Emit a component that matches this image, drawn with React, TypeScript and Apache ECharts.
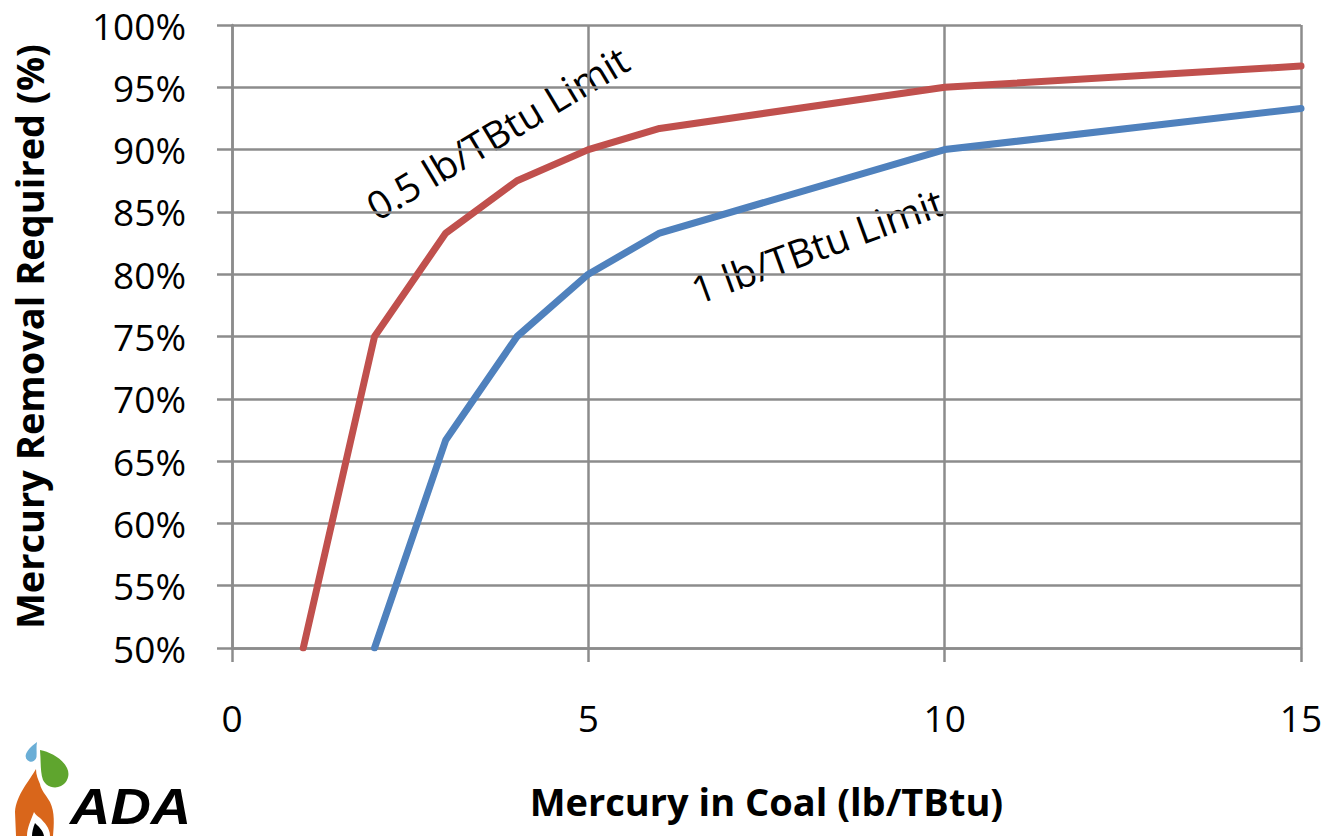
import React, { useEffect, useRef } from "react";
import * as echarts from "echarts";

const coalMercury = [1, 2, 3, 4, 5, 6, 10, 15];
const removalHalfLimit = [50, 75, 83.3, 87.5, 90, 91.7, 95, 96.7];
const coalMercuryOne = [2, 3, 4, 5, 6, 10, 15];
const removalOneLimit = [50, 66.7, 75, 80, 83.3, 90, 93.3];
const seriesNames = ["0.5 lb/TBtu Limit", "1 lb/TBtu Limit"];
const xAxisTitle = "Mercury in Coal (lb/TBtu)";
const yAxisTitle = "Mercury Removal Required (%)";
const logoText = "ADA";

const FONT = "'Open Sans', 'Liberation Sans', sans-serif";

const DROP_D = "M37,742 C36,747 37,752 36.5,757 A5.5,5.5 0 1 1 26,754 C28,749 33,745 37,742 Z";
const LEAF_D = "M40,750 C50,752 62,758 67,768 A13,13 0 0 1 43,780 C40,772 41,760 40,750 Z";
const FLAME_D = "M36,769 C30,780 16,795 15,812 L16,836 L53,836 C54,825 55,812 50,802 C46,795 41,790 40,784 C38,779 36,775 36,769 Z";
const INNER_D = "M34,812 C31,820 27,828 27,836 L50,836 C50,828 44,822 40,818 C37,816 35,814 34,812 Z";
const CORE_D = "M35,823 C33,828 32,832 32,836 L44,836 C43,830 38,826 35,823 Z";

export default function App() {
  const ref = useRef<HTMLDivElement>(null);
  useEffect(() => {
    if (!ref.current) return;
    const reg = (name: string, d: string) =>
      echarts.graphic.registerShape(name, echarts.graphic.extendPath(d, {}) as any);
    reg("adaDrop", DROP_D);
    reg("adaLeaf", LEAF_D);
    reg("adaFlame", FLAME_D);
    reg("adaInner", INNER_D);
    reg("adaCore", CORE_D);
    const chart = echarts.init(ref.current, null, { renderer: "svg" });
    const gridColor = "#8c8c8c";
    const redPts = coalMercury.map((x, i) => [x, removalHalfLimit[i]]);
    const bluePts = coalMercuryOne.map((x, i) => [x, removalOneLimit[i]]);
    chart.setOption({
      animation: false,
      backgroundColor: "#ffffff",
      grid: { left: 232, right: 35, top: 25, bottom: 188, containLabel: false },
      xAxis: {
        type: "value",
        min: 0,
        max: 15,
        interval: 5,
        name: xAxisTitle,
        nameLocation: "middle",
        nameGap: 134,
        nameTextStyle: { fontFamily: FONT, fontSize: 38, fontWeight: "bold", color: "#000" },
        axisLine: { show: true, onZero: false, lineStyle: { color: gridColor, width: 2.5 } },
        axisTick: { show: true, length: 14, lineStyle: { color: gridColor, width: 2.5 } },
        axisLabel: { fontFamily: FONT, fontSize: 37, color: "#000", margin: 51 },
        splitLine: { show: true, lineStyle: { color: gridColor, width: 2.5 } },
      },
      yAxis: {
        type: "value",
        min: 50,
        max: 100,
        interval: 5,
        name: yAxisTitle,
        nameLocation: "middle",
        nameGap: 184,
        nameTextStyle: { fontFamily: FONT, fontSize: 38, fontWeight: "bold", color: "#000" },
        axisLine: { show: true, lineStyle: { color: gridColor, width: 2.5 } },
        axisTick: { show: true, length: 15, lineStyle: { color: gridColor, width: 2.5 } },
        axisLabel: { fontFamily: FONT, fontSize: 37, color: "#000", margin: 46, formatter: "{value}%" },
        splitLine: { show: true, lineStyle: { color: gridColor, width: 2.5 } },
      },
      series: [
        {
          name: seriesNames[0],
          type: "line",
          data: redPts,
          symbol: "none",
          lineStyle: { color: "#c0504d", width: 7, cap: "round", join: "round" },
        },
        {
          name: seriesNames[1],
          type: "line",
          data: bluePts,
          symbol: "none",
          lineStyle: { color: "#4f81bd", width: 7, cap: "round", join: "round" },
        },
      ],
      graphic: [
        {
          type: "text",
          x: 497,
          y: 132,
          rotation: (31 * Math.PI) / 180,
          style: {
            text: seriesNames[0],
            fontFamily: FONT,
            fontSize: 39,
            fill: "#000",
            align: "center",
            verticalAlign: "middle",
          },
        },
        {
          type: "text",
          x: 817,
          y: 245,
          rotation: (20 * Math.PI) / 180,
          style: {
            text: seriesNames[1],
            fontFamily: FONT,
            fontSize: 39,
            fill: "#000",
            align: "center",
            verticalAlign: "middle",
          },
        },
        { type: "adaDrop", x: 0, y: 0, style: { fill: "#6aaed6" } },
        { type: "adaLeaf", x: 0, y: 0, style: { fill: "#5fa52e" } },
        { type: "adaFlame", x: 0, y: 0, style: { fill: "#d9661b" } },
        { type: "adaInner", x: 0, y: 0, style: { fill: "#ffffff" } },
        { type: "adaCore", x: 0, y: 0, style: { fill: "#000000" } },
        {
          type: "text",
          x: 70,
          y: 807,
          scaleX: 1.12,
          style: {
            text: logoText,
            fontFamily: "'Liberation Sans', Arial, sans-serif",
            fontSize: 50,
            fontWeight: "bold",
            fontStyle: "italic",
            fill: "#000",
            align: "left",
            verticalAlign: "middle",
          },
        },
      ],
    });
    return () => chart.dispose();
  }, []);
  return (
    <div
      ref={ref}
      style={{ position: "absolute", left: 0, top: 0, width: 1336, height: 836, background: "#fff" }}
    />
  );
}
